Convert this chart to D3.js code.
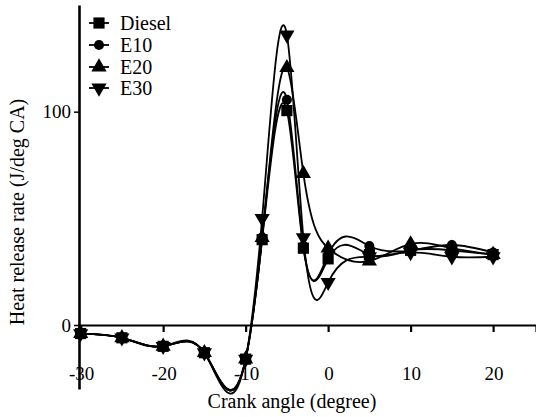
<!DOCTYPE html>
<html>
<head>
<meta charset="utf-8">
<script src="https://cdn.jsdelivr.net/npm/d3@7"></script>
<style>
  html, body { margin: 0; padding: 0; background: #fff; }
  svg text { font-family: 'Liberation Serif', 'DejaVu Serif', serif !important; fill: #000; }
</style>
</head>
<body>
<svg id="chart" width="536" height="417"></svg>
<script>
// ---- data ----
const angles = [-30, -25, -20, -15, -10, -8, -5, -3, 0, 5, 10, 15, 20];
const diesel = [-4, -6, -10, -13, -16, 40, 100.5, 36, 31, 33, 35, 35, 33];
const e10    = [-4, -6, -10, -13, -16, 41, 105.6, 37, 33, 37, 35, 37.5, 34];
const e20    = [-4, -6, -10, -13, -16, 41, 120.6, 71, 36, 30, 38, 36, 33];
const e30    = [-4, -6, -10, -13, -16, 50, 136, 41, 20, 32, 34, 32, 32];
const seriesNames = ["Diesel", "E10", "E20", "E30"];
const xTicks = [-30, -20, -10, 0, 10, 20];
const yTicks = [0, 100];

const FONT = "'Liberation Serif', 'DejaVu Serif', serif";
const seriesValues = [diesel, e10, e20, e30];
const symbols = [d3.symbolSquare, d3.symbolCircle, d3.symbolTriangle, d3.symbolTriangle];
const symbolSizes = [125, 80, 100, 100];
const symbolRot = [0, 0, 0, 180];

const svg = d3.select("#chart");
const x = d3.scaleLinear().domain([-30.2, 25.2]).range([79, 536]);
const y = d3.scaleLinear().domain([-30, 150]).range([389, 5]);

// natural cubic spline in x (custom d3 curve)
function curveNaturalX(context) {
  let xs = [], ys = [];
  return {
    areaStart() {}, areaEnd() {},
    lineStart() { xs = []; ys = []; },
    point(px, py) { xs.push(+px); ys.push(+py); },
    lineEnd() {
      const n = xs.length;
      if (!n) return;
      context.moveTo(xs[0], ys[0]);
      if (n === 1) return;
      if (n === 2) { context.lineTo(xs[1], ys[1]); return; }
      const h = [], dl = [];
      for (let i = 0; i < n - 1; i++) { h[i] = xs[i + 1] - xs[i]; dl[i] = (ys[i + 1] - ys[i]) / h[i]; }
      const a = new Array(n).fill(0), b = new Array(n).fill(0), c = new Array(n).fill(0), r = new Array(n).fill(0);
      b[0] = 2; c[0] = 1; r[0] = 3 * dl[0];
      for (let i = 1; i < n - 1; i++) {
        a[i] = h[i]; b[i] = 2 * (h[i - 1] + h[i]); c[i] = h[i - 1];
        r[i] = 3 * (h[i] * dl[i - 1] + h[i - 1] * dl[i]);
      }
      a[n - 1] = 1; b[n - 1] = 2; r[n - 1] = 3 * dl[n - 2];
      for (let i = 1; i < n; i++) {
        const w = a[i] / b[i - 1];
        b[i] -= w * c[i - 1]; r[i] -= w * r[i - 1];
      }
      const m = new Array(n);
      m[n - 1] = r[n - 1] / b[n - 1];
      for (let i = n - 2; i >= 0; i--) m[i] = (r[i] - c[i] * m[i + 1]) / b[i];
      for (let i = 0; i < n - 1; i++) {
        context.bezierCurveTo(xs[i] + h[i] / 3, ys[i] + m[i] * h[i] / 3,
                              xs[i + 1] - h[i] / 3, ys[i + 1] - m[i + 1] * h[i] / 3,
                              xs[i + 1], ys[i + 1]);
      }
    }
  };
}

const line = d3.line().x(d => x(d[0])).y(d => y(d[1])).curve(curveNaturalX);

// curves
const g = svg.append("g");
seriesValues.forEach((vals) => {
  const pts = angles.map((a, i) => [a, vals[i]]);
  g.append("path").attr("d", line(pts)).attr("fill", "none")
    .attr("stroke", "#000").attr("stroke-width", 1.8);
});

// markers (E30, E20, E10, Diesel order so squares end on top)
[3, 2, 1, 0].forEach(si => {
  const vals = seriesValues[si];
  const sym = d3.symbol().type(symbols[si]).size(symbolSizes[si]);
  g.selectAll(null).data(angles.map((a, i) => [a, vals[i]])).join("path")
    .attr("d", sym)
    .attr("transform", d => `translate(${x(d[0])},${y(d[1])}) rotate(${symbolRot[si]})`)
    .attr("fill", "#000");
});

// x axis line at y=0
const xAxis = d3.axisBottom(x).tickValues(xTicks).tickSize(7).tickFormat("");
const xg = svg.append("g").attr("transform", `translate(0,${y(0)})`).call(xAxis);
xg.select(".domain").attr("stroke", "#000").attr("stroke-width", 2.2);
xg.selectAll(".tick line").attr("stroke", "#000").attr("stroke-width", 2.2);
// x tick labels at bottom
svg.append("g").selectAll("text").data(xTicks).join("text")
  .attr("x", d => x(d) + 1).attr("y", 380).attr("text-anchor", "middle")
  .attr("font-family", FONT).attr("font-size", 19).text(d => d);

// y axis
const yAxis = d3.axisLeft(y).tickValues(yTicks).tickSize(5).tickPadding(3).tickSizeOuter(0);
const yg = svg.append("g").attr("transform", `translate(${x(-30.2)},0)`).call(yAxis)
  .attr("font-family", FONT);
yg.select(".domain").attr("stroke", "#000").attr("stroke-width", 2.6);
yg.selectAll(".tick line").attr("stroke", "#000").attr("stroke-width", 1.5);
yg.selectAll(".tick text").attr("font-size", 19).attr("font-family", FONT).attr("fill", "#000");

// axis titles
svg.append("text").attr("x", 292).attr("y", 408).attr("text-anchor", "middle")
  .attr("font-family", FONT).attr("font-size", 20).text("Crank angle (degree)");
svg.append("text").attr("transform", "translate(24,212) rotate(-90)").attr("text-anchor", "middle")
  .attr("font-family", FONT).attr("font-size", 20).text("Heat release rate (J/deg CA)");

// legend
const leg = svg.append("g");
const rowY = [23, 45, 67, 88];
seriesNames.forEach((name, i) => {
  leg.append("line").attr("x1", 89).attr("x2", 109).attr("y1", rowY[i]).attr("y2", rowY[i])
    .attr("stroke", "#000").attr("stroke-width", 1.8);
  leg.append("path").attr("d", d3.symbol().type(symbols[i]).size(symbolSizes[i]))
    .attr("transform", `translate(99,${rowY[i]}) rotate(${symbolRot[i]})`).attr("fill", "#000");
  leg.append("text").attr("x", 120).attr("y", rowY[i] + 6.5)
    .attr("font-family", FONT).attr("font-size", 20).text(name);
});
</script>
</body>
</html>
